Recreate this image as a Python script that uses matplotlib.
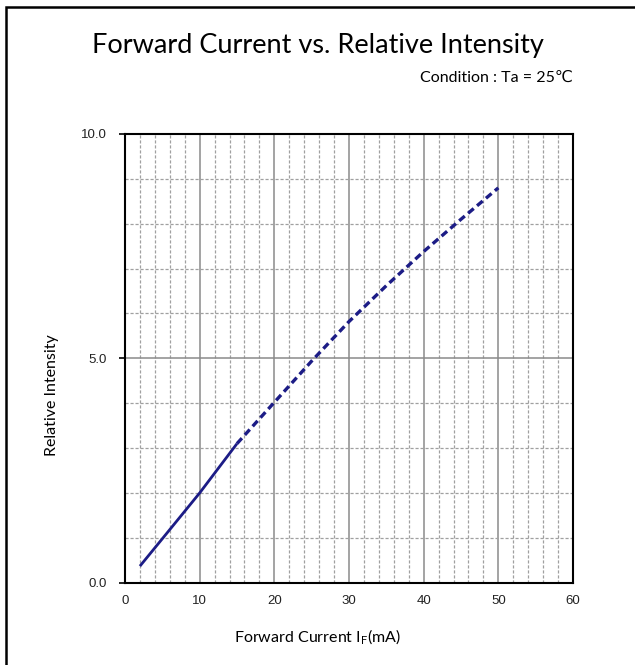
#Forward current vs relative intensity (LED datasheet curve)
import numpy as np
import matplotlib
matplotlib.use('Agg')
import matplotlib.pyplot as plt
from matplotlib.patches import Rectangle

# measured part (solid) and extrapolated part (dashed)
current_solid = [2, 5, 10, 15]
intensity_solid = [0.37, 0.98, 2.0, 3.1]
current_dashed = [15, 20, 25, 30, 35, 40, 45, 50]
intensity_dashed = [3.1, 4.02, 4.94, 5.82, 6.62, 7.38, 8.1, 8.8]

x_ticks = [0, 10, 20, 30, 40, 50, 60]
y_ticks = [0.0, 5.0, 10.0]
y_tick_labels = ['0.0', '5.0', '10.0']

plt.rcParams['mathtext.fontset'] = 'custom'
plt.rcParams['mathtext.rm'] = 'Lato'
label_font = ['Lato', 'DejaVu Sans']

fig = plt.figure(figsize=(6.35, 6.65), dpi=100)

# outer frame (right/bottom edges fall outside the picture)
fig.patches.append(Rectangle((6/635, -0.05), 1.2, 1 - 7/665 + 0.05, transform=fig.transFigure,
                             fill=False, edgecolor='black', linewidth=1.8))

ax = fig.add_axes([125/635, 1 - 582.7/665, 448/635, 448.7/665])

# grid: dashed every 2 mA / 1 unit, solid every 10 mA / 5 units
for xv in np.arange(2, 60, 2):
    if xv % 10 == 0:
        ax.axvline(xv, color='#8a8a8a', linewidth=1.1, zorder=1)
    else:
        ax.axvline(xv, color='#a0a0a0', linewidth=0.9, linestyle=(0, (2.5, 1.5)), zorder=1)
for yv in np.arange(1, 10, 1):
    if yv % 5 == 0:
        ax.axhline(yv, color='#8a8a8a', linewidth=1.1, zorder=1)
    else:
        ax.axhline(yv, color='#a0a0a0', linewidth=0.9, linestyle=(0, (2.5, 1.5)), zorder=1)

ax.plot(current_solid, intensity_solid, color='#1c1c86', linewidth=2.0, solid_capstyle='butt', zorder=3)
ax.plot(current_dashed, intensity_dashed, color='#1c1c86', linewidth=2.4, linestyle=(0, (2.2, 1.3)),
        dash_capstyle='butt', zorder=3)

ax.set_xlim(0, 60)
ax.set_ylim(0, 10)
ax.set_xticks(x_ticks)
ax.set_yticks(y_ticks)
ax.set_yticklabels(y_tick_labels)
for s in ax.spines.values():
    s.set_linewidth(1.5)
ax.tick_params(axis='x', length=0, pad=9, labelsize=9.5)
ax.tick_params(axis='y', length=4, width=1.2, pad=9, labelsize=9.5)
for lab in ax.get_xticklabels() + ax.get_yticklabels():
    lab.set_family('Liberation Sans')
    lab.set_color('#222222')

fig.text(0.5, 1 - 45/665, 'Forward Current vs. Relative Intensity', ha='center', va='center',
         fontsize=19.5, family=label_font)
fig.text(573/635, 1 - 78/665, 'Condition : Ta = 25\u2103', ha='right', va='center',
         fontsize=11.5, family=label_font)
fig.text(0.5, 1 - 637/665, r'Forward Current I$_{\mathrm{F}}$(mA)', ha='center', va='center',
         fontsize=11.5, family=label_font)
fig.text(52/635, 1 - 395/665, 'Relative Intensity', ha='center', va='center', rotation=90,
         fontsize=11.5, family=label_font)

fig.savefig('out.png', dpi=100)
